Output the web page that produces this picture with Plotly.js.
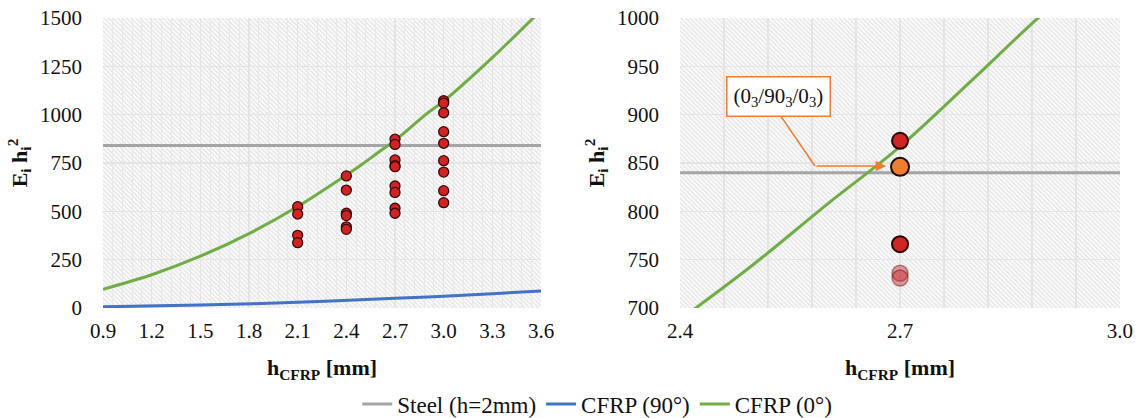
<!DOCTYPE html>
<html>
<head>
<meta charset="utf-8">
<script src="https://cdn.plot.ly/plotly-3.0.1.min.js"></script>
<style>html,body{margin:0;padding:0;background:#fff;}#chart{width:1140px;height:418px;}</style>
</head>
<body>
<div id="chart"></div>
<script>
// ---- data ----
const steelX = [0.9, 3.6];
const steelY = [840, 840];

const cfrp90X = [0.9, 1.5, 2.1, 2.7, 3.0, 3.3, 3.6];
const cfrp90Y = [6, 15, 30, 50, 61, 74, 88];

const cfrp0X = [0.9, 1.2, 1.5, 1.8, 2.1, 2.4, 2.5, 2.6, 2.7, 2.8, 2.9, 3.0, 3.3, 3.6];
const cfrp0Y = [97, 172, 268, 385, 525, 688, 745, 807, 867, 937, 1008, 1070, 1295, 1540];

// laminate configurations (left panel)
const layupX = [2.1, 2.1, 2.1, 2.1,
                2.4, 2.4, 2.4, 2.4, 2.4, 2.4,
                2.7, 2.7, 2.7, 2.7, 2.7, 2.7, 2.7, 2.7, 2.7,
                3.0, 3.0, 3.0, 3.0, 3.0, 3.0, 3.0, 3.0, 3.0];
const layupY = [524, 486, 376, 338,
                683, 610, 490, 478, 420, 407,
                873, 846, 766, 736, 731, 631, 598, 516, 490,
                1072, 1060, 1010, 912, 852, 762, 703, 607, 545];

// zoomed panel (right)
const zoomRedX = [2.7, 2.7];
const zoomRedY = [873, 766];
const zoomPaleX = [2.7, 2.7];
const zoomPaleY = [736, 731];
const chosenX = [2.7];
const chosenY = [846];
const chosenLabel = '(0<sub>3</sub>/90<sub>3</sub>/0<sub>3</sub>)';

const leftTicks = [0.9, 1.2, 1.5, 1.8, 2.1, 2.4, 2.7, 3.0, 3.3, 3.6];
const leftTickText = ['0.9','1.2','1.5','1.8','2.1','2.4','2.7','3.0','3.3','3.6'];
const rightTicks = [2.4, 2.7, 3.0];
const rightTickText = ['2.4', '2.7', '3.0'];

// ---- styling ----
const FONT = '"Liberation Serif", "Times New Roman", Times, serif';
const GREY = '#A5A5A5', BLUE = '#4472C4', GREEN = '#70AD47', ORANGE = '#ED7D31';
const RED = '#D02424';

function hatch(w, h) {
  const svg = `<svg xmlns='http://www.w3.org/2000/svg' width='${w}' height='${h}' viewBox='0 0 ${w} ${h}'>` +
    `<defs><pattern id='p' width='3.2' height='3.2' patternUnits='userSpaceOnUse' patternTransform='rotate(-45)'>` +
    `<rect width='3.2' height='3.2' fill='#fafafa'/>` +
    `<line x1='0.6' y1='0' x2='0.6' y2='3.2' stroke='#e0e0e0' stroke-width='1'/></pattern></defs>` +
    `<rect width='${w}' height='${h}' fill='url(#p)'/></svg>`;
  return 'data:image/svg+xml;charset=utf-8,' + encodeURIComponent(svg);
}

const traces = [
  {x: steelX, y: steelY, xaxis: 'x', yaxis: 'y', mode: 'lines', name: 'Steel (h=2mm)',
   line: {color: GREY, width: 3}},
  {x: cfrp90X, y: cfrp90Y, xaxis: 'x', yaxis: 'y', mode: 'lines', name: 'CFRP (90°)',
   line: {color: BLUE, width: 3, shape: 'spline'}},
  {x: cfrp0X, y: cfrp0Y, xaxis: 'x', yaxis: 'y', mode: 'lines', name: 'CFRP (0°)',
   line: {color: GREEN, width: 3, shape: 'spline'}},
  {x: layupX, y: layupY, xaxis: 'x', yaxis: 'y', mode: 'markers', showlegend: false,
   marker: {color: RED, size: 10, line: {color: '#3a0a0a', width: 1.3}}},

  {x: [2.4, 3.0], y: steelY, xaxis: 'x2', yaxis: 'y2', mode: 'lines', showlegend: false,
   line: {color: GREY, width: 3}},
  {x: cfrp0X, y: cfrp0Y, xaxis: 'x2', yaxis: 'y2', mode: 'lines', showlegend: false,
   line: {color: GREEN, width: 3, shape: 'spline'}},
  {x: zoomPaleX, y: zoomPaleY, xaxis: 'x2', yaxis: 'y2', mode: 'markers', showlegend: false,
   marker: {color: 'rgba(200,40,45,0.45)', size: 16, line: {color: 'rgba(90,20,20,0.45)', width: 1.5}}},
  {x: zoomRedX, y: zoomRedY, xaxis: 'x2', yaxis: 'y2', mode: 'markers', showlegend: false,
   marker: {color: RED, size: 16, line: {color: '#2a0505', width: 2}}},
  {x: chosenX, y: chosenY, xaxis: 'x2', yaxis: 'y2', mode: 'markers', showlegend: false,
   marker: {color: ORANGE, size: 18, line: {color: '#1a0a00', width: 2}}}
];

const axisCommon = {
  showline: false, zeroline: false, ticks: '',
  tickfont: {family: FONT, size: 21, color: '#111'},
  gridcolor: '#e4e4e4', gridwidth: 1.5
};

const layout = {
  width: 1140, height: 418,
  margin: {l: 103, r: 20, t: 18, b: 110, autoexpand: false},
  paper_bgcolor: '#ffffff', plot_bgcolor: '#f6f6f6',
  font: {family: FONT, size: 21, color: '#111'},
  showlegend: true,
  legend: {orientation: 'h', x: 0.486, xanchor: 'center', y: -0.331, yanchor: 'middle',
           font: {family: FONT, size: 23, color: '#111'}, itemwidth: 30, tracegroupgap: 0},
  xaxis: Object.assign({}, axisCommon, {
    domain: [0, 0.4307], range: [0.9, 3.6], tickmode: 'array', tickvals: leftTicks, ticktext: leftTickText,
    ticklabelstandoff: 8,
    minor: {dtick: 0.06, tick0: 0.9, showgrid: true, gridcolor: '#e8e8e8', gridwidth: 1},
    title: {text: '<b>h<sub>CFRP</sub> [mm]</b>', font: {family: FONT, size: 22, color: '#111'}, standoff: 17}
  }),
  yaxis: Object.assign({}, axisCommon, {
    domain: [0, 1], range: [0, 1500], dtick: 250, tick0: 0, ticklabelstandoff: 20,
    title: {text: '<b>E<sub>i</sub> h<sub>i</sub><sup>2</sup></b>', font: {family: FONT, size: 22, color: '#111'}, standoff: 6}
  }),
  xaxis2: Object.assign({}, axisCommon, {
    domain: [0.5674, 1.0], range: [2.4, 3.0], anchor: 'y2', tickmode: 'array', tickvals: rightTicks, ticktext: rightTickText,
    ticklabelstandoff: 8,
    minor: {dtick: 0.06, tick0: 2.4, showgrid: true, gridcolor: '#e4e4e4', gridwidth: 1.5},
    title: {text: '<b>h<sub>CFRP</sub> [mm]</b>', font: {family: FONT, size: 22, color: '#111'}, standoff: 17}
  }),
  yaxis2: Object.assign({}, axisCommon, {
    domain: [0, 1], range: [700, 1000], dtick: 50, tick0: 700, anchor: 'x2', ticklabelstandoff: 20,
    title: {text: '<b>E<sub>i</sub> h<sub>i</sub><sup>2</sup></b>', font: {family: FONT, size: 22, color: '#111'}, standoff: 6}
  }),
  images: [
    {source: hatch(438, 290), xref: 'x', yref: 'y', x: 0.9, y: 1500, sizex: 2.7, sizey: 1500,
     sizing: 'stretch', layer: 'below', xanchor: 'left', yanchor: 'top'},
    {source: hatch(440, 290), xref: 'x2', yref: 'y2', x: 2.4, y: 1000, sizex: 0.6, sizey: 300,
     sizing: 'stretch', layer: 'below', xanchor: 'left', yanchor: 'top'}
  ],
  shapes: [
    {type: 'path', xref: 'x2', yref: 'y2', path: 'M 2.536 900 L 2.584 846.9',
     line: {color: ORANGE, width: 1.5}}
  ],
  annotations: [
    {xref: 'x2', yref: 'y2', x: 2.534, y: 918.8, text: chosenLabel, showarrow: false,
     font: {family: FONT, size: 21, color: '#111'}, bgcolor: '#ffffff', bordercolor: ORANGE,
     borderwidth: 1.5, borderpad: 6},
    {xref: 'x2', yref: 'y2', axref: 'x2', ayref: 'y2', x: 2.681, y: 846.9, ax: 2.584, ay: 846.9,
     text: '', showarrow: true, arrowhead: 2, arrowsize: 1.4, arrowwidth: 1.5, arrowcolor: ORANGE}
  ]
};

Plotly.newPlot('chart', traces, layout, {staticPlot: true, displayModeBar: false});
</script>
</body>
</html>
